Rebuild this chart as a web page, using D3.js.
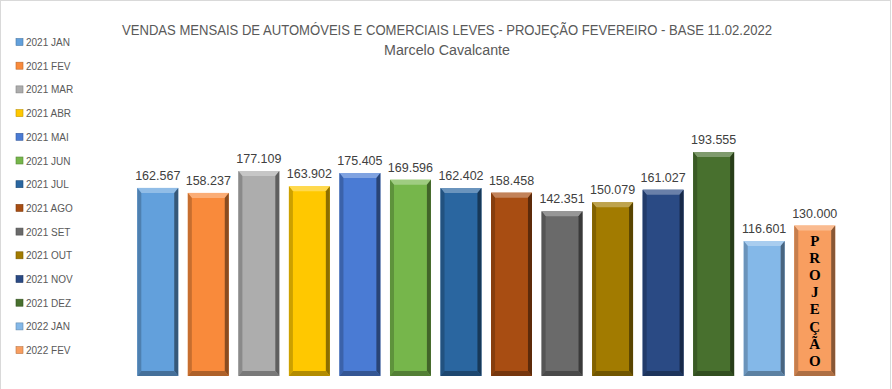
<!DOCTYPE html>
<html>
<head>
<meta charset="utf-8">
<script src="https://cdn.jsdelivr.net/npm/d3@7"></script>
<style>
  body { margin: 0; background: #fff; }
  svg { display: block; }
</style>
</head>
<body>
<svg id="chart" width="892" height="389"></svg>
<script>
// data
var meses = ["2021 JAN", "2021 FEV", "2021 MAR", "2021 ABR", "2021 MAI", "2021 JUN", "2021 JUL",
             "2021 AGO", "2021 SET", "2021 OUT", "2021 NOV", "2021 DEZ", "2022 JAN", "2022 FEV"];
var vendas = [162567, 158237, 177109, 163902, 175405, 169596, 162402,
              158458, 142351, 150079, 161027, 193555, 116601, 130000];
var rotulos = ["162.567", "158.237", "177.109", "163.902", "175.405", "169.596", "162.402",
               "158.458", "142.351", "150.079", "161.027", "193.555", "116.601", "130.000"];
var cores = ["#62a0dc", "#f98a3b", "#adadad", "#ffc800", "#4a7bd4", "#76b64b", "#2a66a0",
             "#a84d12", "#6a6a6a", "#a27b00", "#2a4a84", "#48702e", "#84b8e8", "#f89e60"];
var projecao = "PROJEÇÃO".split("");

var titulo = "VENDAS MENSAIS DE AUTOMÓVEIS E COMERCIAIS LEVES - PROJEÇÃO FEVEREIRO - BASE 11.02.2022",
    subtitulo = "Marcelo Cavalcante";

var svg = d3.select("#chart");

// frame
svg.append("rect")
  .attr("x", 0.5).attr("y", 0.5)
  .attr("width", 890).attr("height", 392)
  .attr("fill", "#fff")
  .attr("stroke", "#d9d9d9");

svg.append("text")
  .attr("x", 447).attr("y", 35)
  .attr("text-anchor", "middle")
  .attr("textLength", 650).attr("lengthAdjust", "spacingAndGlyphs")
  .style("font-family", "'Liberation Sans Narrow', 'Liberation Sans', sans-serif")
  .style("font-size", "14px")
  .style("fill", "#595959")
  .text(titulo);

svg.append("text")
  .attr("x", 447).attr("y", 55)
  .attr("text-anchor", "middle")
  .attr("textLength", 126).attr("lengthAdjust", "spacingAndGlyphs")
  .style("font-family", "'Liberation Sans Narrow', 'Liberation Sans', sans-serif")
  .style("font-size", "14px")
  .style("fill", "#595959")
  .text(subtitulo);

var x = d3.scaleBand()
  .domain(meses)
  .range([132.5, 840])
  .paddingInner(0.19)
  .paddingOuter(0.095);

var y = d3.scaleLinear()
  .domain([0, 200000])
  .range([376, 144.6]);

var bw = x.bandwidth(),
    bev = 5,   // bevel depth
    side = 4;

var dados = meses.map(function(m, i) {
  return { mes: m, valor: vendas[i], rotulo: rotulos[i], cor: cores[i] };
});

var barras = svg.append("g").attr("class", "bars")
  .selectAll("g")
  .data(dados)
  .enter().append("g")
  .attr("transform", function(d) { return "translate(" + x(d.mes) + "," + y(d.valor) + ")"; });

barras.each(function(d) {
  var g = d3.select(this),
      h = y(0) - y(d.valor);
  var claro = d3.interpolateRgb(d.cor, "#ffffff"),
      escuro = d3.interpolateRgb(d.cor, "#000000");

  g.append("rect")
    .attr("width", bw).attr("height", h)
    .attr("fill", d.cor);
  // top bevel
  g.append("polygon")
    .attr("points", [[0, 0], [bw, 0], [bw - side, bev], [side, bev]].join(" "))
    .attr("fill", claro(0.3));
  // left bevel
  g.append("polygon")
    .attr("points", [[0, 0], [side, bev], [side, h - bev], [0, h]].join(" "))
    .attr("fill", escuro(0.2));
  // right bevel
  g.append("polygon")
    .attr("points", [[bw, 0], [bw, h], [bw - side, h - bev], [bw - side, bev]].join(" "))
    .attr("fill", escuro(0.45));
  // bottom bevel
  g.append("polygon")
    .attr("points", [[0, h], [side, h - bev], [bw - side, h - bev], [bw, h]].join(" "))
    .attr("fill", escuro(0.3));
});

// value labels
svg.append("g").attr("class", "labels")
  .selectAll("text")
  .data(dados)
  .enter().append("text")
  .attr("x", function(d) { return x(d.mes) + bw / 2; })
  .attr("y", function(d) { return y(d.valor) - 8; })
  .attr("text-anchor", "middle")
  .style("font-family", "'Liberation Sans', Arial, sans-serif")
  .style("font-size", "12.5px")
  .style("fill", "#404040")
  .text(function(d) { return d.rotulo; });

// PROJEÇÃO written down the last bar
var ultimo = meses[meses.length - 1];
svg.append("g").attr("class", "projecao")
  .selectAll("text")
  .data(projecao)
  .enter().append("text")
  .attr("x", x(ultimo) + bw / 2)
  .attr("y", function(d, i) { return 246 + i * 17.1; })
  .attr("text-anchor", "middle")
  .style("font-family", "'Liberation Serif', 'Times New Roman', serif")
  .style("font-weight", "bold")
  .style("font-size", "15px")
  .style("fill", "#000")
  .text(function(d) { return d; });

// legend
var leg = svg.append("g").attr("class", "legend")
  .selectAll("g")
  .data(dados)
  .enter().append("g")
  .attr("transform", function(d, i) { return "translate(16," + (42 + i * 23.7) + ")"; });

leg.append("rect")
  .attr("x", 0).attr("y", -3.5)
  .attr("width", 7).attr("height", 7)
  .attr("fill", function(d) { return d.cor; })
  .attr("stroke", function(d) { return d3.color(d.cor).darker(0.8); })
  .attr("stroke-width", 0.6);

leg.append("text")
  .attr("x", 10).attr("y", 4)
  .style("font-family", "'Liberation Sans', Arial, sans-serif")
  .style("font-size", "10px")
  .style("fill", "#595959")
  .text(function(d) { return d.mes; });
</script>
</body>
</html>
